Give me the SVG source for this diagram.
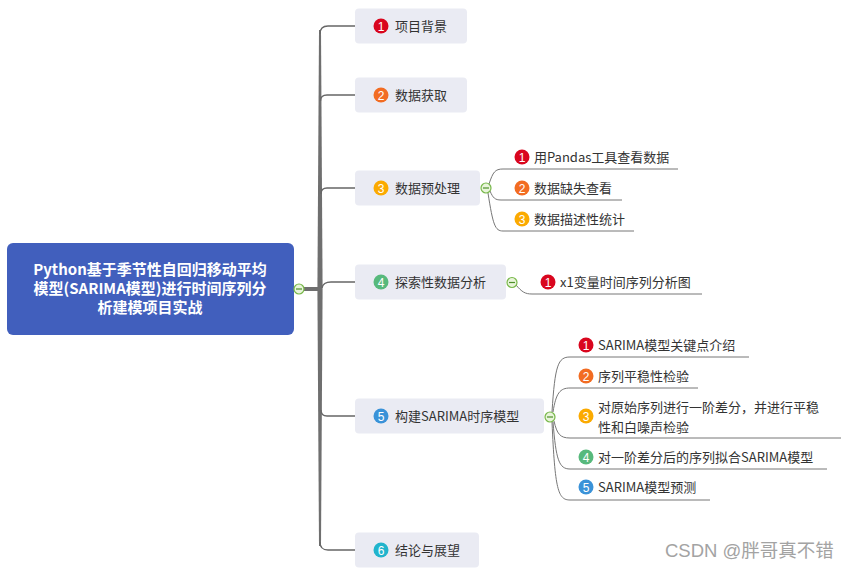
<svg xmlns="http://www.w3.org/2000/svg" width="851" height="574" viewBox="0 0 851 574">
<style>
.t{font-family:"Noto Sans CJK SC","Liberation Sans",sans-serif;font-size:13px;fill:#333}
.rt{font-family:"Noto Sans CJK SC","Liberation Sans",sans-serif;font-size:15px;font-weight:bold;fill:#fff}
.n{font-family:"Liberation Sans",Arial,sans-serif;font-size:12px;fill:#fff;text-anchor:middle}
.box{fill:#EAEBF3}
.br{fill:none;stroke:#666;stroke-width:1.3}
.sb{fill:none;stroke:#777;stroke-width:1}
.col{fill:#E8F4DA;stroke:#78B84A;stroke-width:1.2}
.mn{stroke:#4E8F2A;stroke-width:1.2}
.c1{fill:#D9061E}.c2{fill:#F26C22}.c3{fill:#FBAA00}.c4{fill:#57B97C}.c5{fill:#3A92D8}.c6{fill:#21B4CC}
</style>
<rect width="851" height="574" fill="#fff"/>
<g id="connectors">
  <polygon points="319,30 321,30 322.6,289 321,546 319,546 317.4,289" fill="#6f6f6f"/>
  <line x1="303" y1="289" x2="319" y2="289" stroke="#6f6f6f" stroke-width="4"/>
  <path class="br" d="M320 34 Q320 26 328 26 L355 26"/>
  <path class="br" d="M320.5 101 Q320.5 95 327 95 L355 95"/>
  <path class="br" d="M321 194 Q321 188 327 188 L355 188"/>
  <path class="br" d="M322 288 Q323 282 331 282 L355 282"/>
  <path class="br" d="M321 410 Q321 416 327 416 L355 416"/>
  <path class="br" d="M320 542 Q320 550 328 550 L355 550"/>
  <path class="sb" d="M489 184 C493 172 495 169 503 169 L678 169"/>
  <path class="sb" d="M490 191 C493 198 495 200 501 200 L622 200"/>
  <path class="sb" d="M488 193 C493 225 495 231 503 231 L634 231"/>
  <path class="sb" d="M516 285 C522 292 525 294 532 294 L702 294"/>
  <path class="sb" d="M552 412 C555 365 558 357 570 357 L749 357"/>
  <path class="sb" d="M553 412 C556 393 560 388 570 388 L698 388"/>
  <path class="sb" d="M554 421 C557 434 560 438 570 438 L841 438"/>
  <path class="sb" d="M553 422 C556 460 559 469 570 469 L827 469"/>
  <path class="sb" d="M552 422 C555 490 558 500 570 500 L710 500"/>
</g>
<g id="root">
  <rect x="7" y="243" width="287" height="92" rx="6" fill="#415FBD"/>
  <text class="rt" text-anchor="middle"><tspan x="150" y="275">Python基于季节性自回归移动平均</tspan><tspan x="150" y="294">模型(SARIMA模型)进行时间序列分</tspan><tspan x="150" y="313">析建模项目实战</tspan></text>
  <circle class="col" cx="299" cy="289" r="5"/><line class="mn" x1="296" y1="289" x2="302" y2="289"/>
</g>
<g id="n1">
  <rect class="box" x="355" y="8.5" width="112" height="35" rx="4"/>
  <circle class="c1" cx="381" cy="26" r="7.5"/><text class="n" x="381" y="30.5">1</text>
  <text class="t" x="395" y="31">项目背景</text>
</g>
<g id="n2">
  <rect class="box" x="355" y="77.5" width="112" height="35" rx="4"/>
  <circle class="c2" cx="381" cy="95" r="7.5"/><text class="n" x="381" y="99.5">2</text>
  <text class="t" x="395" y="100">数据获取</text>
</g>
<g id="n3">
  <rect class="box" x="355" y="170.5" width="125" height="35" rx="4"/>
  <circle class="c3" cx="381" cy="188" r="7.5"/><text class="n" x="381" y="192.5">3</text>
  <text class="t" x="395" y="193">数据预处理</text>
  <circle class="col" cx="486" cy="188" r="5"/><line class="mn" x1="483" y1="188" x2="489" y2="188"/>
</g>
<g id="n3-1"><circle class="c1" cx="522" cy="157" r="7.5"/><text class="n" x="522" y="161.5">1</text><text class="t" x="534" y="162">用Pandas工具查看数据</text></g>
<g id="n3-2"><circle class="c2" cx="522" cy="188" r="7.5"/><text class="n" x="522" y="192.5">2</text><text class="t" x="534" y="193">数据缺失查看</text></g>
<g id="n3-3"><circle class="c3" cx="522" cy="219" r="7.5"/><text class="n" x="522" y="223.5">3</text><text class="t" x="534" y="224">数据描述性统计</text></g>
<g id="n4">
  <rect class="box" x="355" y="264.5" width="151" height="35" rx="4"/>
  <circle class="c4" cx="381" cy="282" r="7.5"/><text class="n" x="381" y="286.5">4</text>
  <text class="t" x="395" y="287">探索性数据分析</text>
  <circle class="col" cx="512" cy="282.5" r="5"/><line class="mn" x1="509" y1="282.5" x2="515" y2="282.5"/>
</g>
<g id="n4-1"><circle class="c1" cx="548" cy="282" r="7.5"/><text class="n" x="548" y="286.5">1</text><text class="t" x="560" y="287">x1变量时间序列分析图</text></g>
<g id="n5">
  <rect class="box" x="355" y="398.5" width="189" height="35" rx="4"/>
  <circle class="c5" cx="381" cy="416" r="7.5"/><text class="n" x="381" y="420.5">5</text>
  <text class="t" x="395" y="421">构建SARIMA时序模型</text>
  <circle class="col" cx="550" cy="417" r="5"/><line class="mn" x1="547" y1="417" x2="553" y2="417"/>
</g>
<g id="n5-1"><circle class="c1" cx="586" cy="345" r="7.5"/><text class="n" x="586" y="349.5">1</text><text class="t" x="598" y="350">SARIMA模型关键点介绍</text></g>
<g id="n5-2"><circle class="c2" cx="586" cy="376" r="7.5"/><text class="n" x="586" y="380.5">2</text><text class="t" x="598" y="381">序列平稳性检验</text></g>
<g id="n5-3"><circle class="c3" cx="586" cy="416" r="7.5"/><text class="n" x="586" y="420.5">3</text><text class="t"><tspan x="598" y="412">对原始序列进行一阶差分，并进行平稳</tspan><tspan x="598" y="432">性和白噪声检验</tspan></text></g>
<g id="n5-4"><circle class="c4" cx="586" cy="457" r="7.5"/><text class="n" x="586" y="461.5">4</text><text class="t" x="598" y="462">对一阶差分后的序列拟合SARIMA模型</text></g>
<g id="n5-5"><circle class="c5" cx="586" cy="487" r="7.5"/><text class="n" x="586" y="491.5">5</text><text class="t" x="598" y="492">SARIMA模型预测</text></g>
<g id="n6">
  <rect class="box" x="355" y="532.5" width="124" height="35" rx="4"/>
  <circle class="c6" cx="381" cy="550" r="7.5"/><text class="n" x="381" y="554.5">6</text>
  <text class="t" x="395" y="555">结论与展望</text>
</g>
<text x="665" y="557" style="font-family:'Liberation Sans','Noto Sans CJK SC',sans-serif;font-size:18.5px;fill:#a3a3a3">CSDN @胖哥真不错</text>
</svg>
